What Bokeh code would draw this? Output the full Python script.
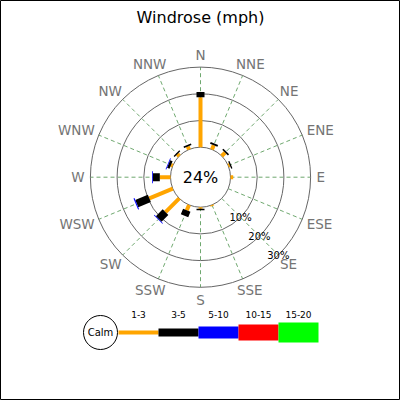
import numpy as np
from bokeh.plotting import figure
from bokeh.models import Range1d
from bokeh.core.properties import value
from bokeh.embed import file_html
from bokeh.resources import INLINE

# ---- data ----
directions = ["N", "NNE", "NE", "ENE", "E", "ESE", "SE", "SSE",
              "S", "SSW", "SW", "WSW", "W", "WNW", "NW", "NNW"]
speed_bins = ["1-3", "3-5", "5-10", "10-15", "15-20"]
bin_colors = ["orange", "black", "blue", "red", "lime"]
s_1_3 = [18.7, 1.7, 1.8, 0.6, 1.0, 0.0, 0.0, 0.4, 0.6, 2.2, 7.3, 9.5, 4.0, 0.7, 1.0, 1.2]
s_3_5 = [2.0, 0.7, 0.6, 0.5, 0.0, 0.0, 0.0, 0.0, 0.5, 2.2, 3.6, 5.1, 2.6, 1.0, 0.5, 0.6]
s_5_10 = [0.0, 0.0, 0.0, 0.0, 0.0, 0.0, 0.0, 0.0, 0.0, 0.0, 0.3, 0.4, 0.3, 0.3, 0.0, 0.0]
s_10_15 = [0.0] * 16
s_15_20 = [0.0] * 16
calm_pct = 24
ring_pcts = [10, 20, 30]
title_text = "Windrose (mph)"

# ---- layout constants (pixels == data units) ----
R0 = 30.0          # calm circle radius
K = 2.67           # px per percent
bar_widths = [4, 8, 12, 16, 20]
FONT = "DejaVu Sans"
CY = 176.7         # rose centre, px from top

p = figure(width=400, height=400, x_range=Range1d(-200, 200), y_range=Range1d(CY - 400, CY),
           output_backend="svg", toolbar_location=None, title=None,
           x_axis_type=None, y_axis_type=None, min_border=0)
p.grid.visible = False
p.outline_line_color = "black"
p.outline_line_width = 1
p.background_fill_color = "white"
p.border_fill_color = "white"

ang = np.deg2rad(np.arange(16) * 22.5)
sx, sy = np.sin(ang), np.cos(ang)

# spokes
rmax = R0 + K * ring_pcts[-1]
p.segment(x0=R0 * sx, y0=R0 * sy, x1=rmax * sx, y1=rmax * sy,
          line_color="#5f9f5f", line_width=1, line_dash="4 3", line_alpha=0.9)
# rings
for pc in ring_pcts:
    p.circle(x=0, y=0, radius=R0 + K * pc, fill_color=None, line_color="#666666", line_width=1)
p.circle(x=0, y=0, radius=R0, fill_color="white", line_color="#666666", line_width=1)

# bars
series = [s_1_3, s_3_5, s_5_10, s_10_15, s_15_20]
cum = np.zeros(16)
for vals, col, w in zip(series, bin_colors, bar_widths):
    v = np.array(vals)
    m = v > 0
    r_in = R0 + K * cum
    r_out = R0 + K * (cum + v)
    p.segment(x0=(r_in * sx)[m], y0=(r_in * sy)[m], x1=(r_out * sx)[m], y1=(r_out * sy)[m],
              line_color=col, line_width=w, line_cap="butt")
    cum = cum + v

# calm text
p.text(x=[0], y=[0], text=[f"{calm_pct}%"], text_font=value(FONT), text_font_size="16px",
       text_align="center", text_baseline="middle", text_color="black")

# ring labels (along SE)
a_se = np.deg2rad(135)
rl = np.array([R0 + K * pc for pc in ring_pcts])
p.text(x=rl * np.sin(a_se), y=rl * np.cos(a_se), text=[f"{pc}%" for pc in ring_pcts],
       text_font=value(FONT), text_font_size="10px", text_align="center",
       text_baseline="middle", text_color="black")

# direction labels: anchored at radius RA, pushed outward by half their size
RA = 116.0
FS = 13.5
adv = {"N": 0.748, "E": 0.632, "S": 0.635, "W": 0.989}
tw = np.array([FS * sum(adv[ch] for ch in d) for d in directions])
th = 13.0
p.text(x=RA * sx + tw / 2 * sx, y=RA * sy + th / 2 * sy, text=directions,
       text_font=value(FONT), text_font_size=f"{FS}px",
       text_align="center", text_baseline="middle", text_color="#747474")

# title
p.text(x=[0], y=[CY - 17], text=[title_text], text_font=value(FONT), text_font_size="16px",
       text_align="center", text_baseline="middle", text_color="black")

# legend
ly = CY - 332
lx0 = -82.0
seg = 40.0
p.circle(x=lx0 - 18, y=ly, radius=17, fill_color="white", line_color="black", line_width=1)
p.text(x=[lx0 - 18], y=[ly], text=["Calm"], text_font=value(FONT), text_font_size="10px",
       text_align="center", text_baseline="middle", text_color="black")
xs0 = lx0 + seg * np.arange(len(speed_bins))
p.segment(x0=xs0, y0=[ly] * 5, x1=xs0 + seg, y1=[ly] * 5, line_color=bin_colors,
          line_width=bar_widths, line_cap="butt")
p.text(x=xs0 + seg / 2, y=[ly + 18] * 5, text=speed_bins, text_font=value(FONT),
       text_font_size="9px", text_align="center", text_baseline="middle", text_color="black")

open("out.html", "w").write(file_html(p, INLINE))
